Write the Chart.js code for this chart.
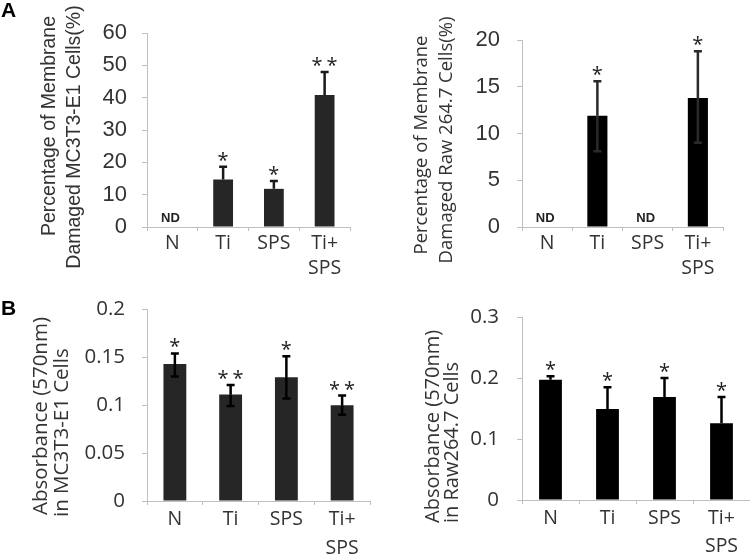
<!DOCTYPE html>
<html>
<head>
<meta charset="utf-8">
<script src="https://cdn.jsdelivr.net/npm/chart.js@4.4.1/dist/chart.umd.min.js"></script>
<style>
  body { margin: 0; background: #fff; }
  #wrap { position: relative; width: 750px; height: 555px; overflow: hidden; }
  canvas { position: absolute; }
  .tag { position: absolute; font: bold 21px "Liberation Sans", Arial, sans-serif; color: #000; line-height: 24px; }
</style>
</head>
<body>
<div id="wrap">
  <canvas id="a1" width="375" height="280" style="left:0;top:0"></canvas>
  <canvas id="a2" width="375" height="280" style="left:375px;top:0"></canvas>
  <canvas id="b1" width="375" height="275" style="left:0;top:280px"></canvas>
  <canvas id="b2" width="375" height="275" style="left:375px;top:280px"></canvas>
  <div class="tag" style="left:1px;top:-2px">A</div>
  <div class="tag" style="left:1px;top:296px">B</div>
</div>
<script>
const categories = ['N', 'Ti', 'SPS', ['Ti+', 'SPS']];

// A - membrane damage (%), MC3T3-E1
const damageMC3T3 = [null, 14.7, 11.8, 40.8];
const damageMC3T3Hi = [null, 18.6, 14.2, 47.9];
const damageMC3T3Lo = [null, null, null, null];
const damageMC3T3Sig = ['ND', '*', '*', '**'];
const ticksA1 = ['0', '10', '20', '30', '40', '50', '60'];
const titleA1 = ['Percentage of Membrane', 'Damaged MC3T3-E1 Cells(%)'];

// A - membrane damage (%), Raw 264.7
const damageRaw = [null, 11.9, null, 13.8];
const damageRawHi = [null, 15.6, null, 18.8];
const damageRawLo = [null, 8.1, null, 9.0];
const damageRawSig = ['ND', '*', 'ND', '*'];
const ticksA2 = ['0', '5', '10', '15', '20'];
const titleA2 = ['Percentage of Membrane', 'Damaged Raw 264.7 Cells(%)'];

// B - absorbance, MC3T3-E1
const absMC3T3 = [0.143, 0.111, 0.129, 0.100];
const absMC3T3Hi = [0.154, 0.121, 0.151, 0.110];
const absMC3T3Lo = [0.130, 0.099, 0.107, 0.090];
const absMC3T3Sig = ['*', '**', '*', '**'];
const ticksB1 = ['0', '0.05', '0.1', '0.15', '0.2'];
const titleB1 = ['Absorbance (570nm)', 'in MC3T3-E1 Cells'];

// B - absorbance, Raw264.7
const absRaw = [0.197, 0.149, 0.169, 0.126];
const absRawHi = [0.203, 0.185, 0.200, 0.169];
const absRawLo = [null, null, null, null];
const absRawSig = ['*', '*', '*', '*'];
const ticksB2 = ['0', '0.1', '0.2', '0.3'];
const titleB2 = ['Absorbance (570nm)', 'in Raw264.7 Cells'];

const txt = '#333';
const axisGray = '#bfbfbf';

function makeChart(id, o) {
  // error bars, stars and ND labels
  const marks = {
    id: 'marks',
    afterDatasetsDraw(chart) {
      const ctx = chart.ctx;
      const xs = chart.scales.x, ys = chart.scales.y;
      ctx.save();
      o.values.forEach((v, i) => {
        const x = xs.getPixelForValue(i);
        if (v != null) {
          const yv = ys.getPixelForValue(v);
          ctx.strokeStyle = o.errColor;
          ctx.lineWidth = 2.5;
          const ends = [o.hi[i], o.lo[i]].filter(e => e != null);
          ends.forEach(e => {
            const ye = ys.getPixelForValue(e);
            ctx.beginPath();
            ctx.moveTo(x, yv); ctx.lineTo(x, ye);
            ctx.moveTo(x - 4, ye); ctx.lineTo(x + 4, ye);
            ctx.stroke();
          });
        }
        const s = o.sig[i];
        ctx.fillStyle = '#222';
        ctx.textAlign = 'center';
        if (s === 'ND') {
          ctx.font = 'bold 13px "Liberation Sans", Arial';
          ctx.textBaseline = 'middle';
          ctx.fillText('ND', x - 2, ys.getPixelForValue(0) - 9);
        } else if (s) {
          const top = ys.getPixelForValue(o.hi[i] != null ? o.hi[i] : v);
          ctx.font = '20px "Open Sans"';
          ctx.textBaseline = 'alphabetic';
          const n = s.length;
          for (let k = 0; k < n; k++) {
            ctx.fillText('*', x + (k - (n - 1) / 2) * 15, top);
          }
        }
      });
      ctx.restore();
    }
  };
  // rotated y axis titles
  const yTitle = {
    id: 'yTitle',
    afterDraw(chart) {
      const ctx = chart.ctx;
      ctx.save();
      ctx.font = o.titleFont;
      ctx.fillStyle = txt;
      ctx.textBaseline = 'middle';
      ctx.textAlign = o.titleAlign;
      o.title.forEach((line, i) => {
        ctx.save();
        ctx.translate(o.titleX[i], o.titleY[i]);
        ctx.rotate(-Math.PI / 2);
        ctx.fillText(line, 0, 0);
        ctx.restore();
      });
      ctx.restore();
    }
  };

  new Chart(document.getElementById(id), {
    type: 'bar',
    data: {
      labels: categories,
      datasets: [{
        data: o.values,
        backgroundColor: o.color,
        barPercentage: o.barPct,
        categoryPercentage: 1
      }]
    },
    options: {
      responsive: false,
      animation: false,
      layout: { padding: o.pad },
      plugins: { legend: { display: false }, tooltip: { enabled: false } },
      scales: {
        x: {
          ticks: {
            color: txt, padding: 0, maxRotation: 0, autoSkip: false,
            font: { family: 'Open Sans', size: 19.5, lineHeight: o.xLine }
          },
          grid: { drawOnChartArea: false, tickLength: 4, color: axisGray },
          border: { color: axisGray },
          afterFit: s => { s.height = o.xHeight; }
        },
        y: {
          min: 0, max: o.max,
          ticks: {
            stepSize: o.step, padding: o.tickPad, color: txt,
            font: o.tickFont,
            callback: (v, i) => o.tickLabels[i]
          },
          grid: { drawOnChartArea: false, tickLength: 5, color: axisGray },
          border: { color: axisGray },
          afterFit: s => { s.width = 147; }
        }
      }
    },
    plugins: [marks, yTitle]
  });
}

makeChart('a1', {
  values: damageMC3T3, hi: damageMC3T3Hi, lo: damageMC3T3Lo, sig: damageMC3T3Sig,
  tickLabels: ticksA1, max: 60, step: 10, color: '#262626', errColor: '#1a1a1a', barPct: 0.39,
  pad: { left: 0, top: 33, right: 25, bottom: 0 }, xHeight: 53, xLine: 1.28,
  tickPad: 15, tickFont: { family: 'Liberation Sans', size: 22 },
  title: titleA1, titleFont: '19.5px "Liberation Sans"', titleAlign: 'center',
  titleX: [50, 75], titleY: [126, 137]
});

makeChart('a2', {
  values: damageRaw, hi: damageRawHi, lo: damageRawLo, sig: damageRawSig,
  tickLabels: ticksA2, max: 20, step: 5, color: '#000', errColor: '#2a2a2a', barPct: 0.4,
  pad: { left: 0, top: 40, right: 27, bottom: 0 }, xHeight: 53, xLine: 1.28,
  tickPad: 17, tickFont: { family: 'Liberation Sans', size: 22 },
  title: titleA2, titleFont: '18.5px "Open Sans"', titleAlign: 'center',
  titleX: [47, 72], titleY: [145, 140]
});

makeChart('b1', {
  values: absMC3T3, hi: absMC3T3Hi, lo: absMC3T3Lo, sig: absMC3T3Sig,
  tickLabels: ticksB1, max: 0.2, step: 0.05, color: '#262626', errColor: '#000', barPct: 0.41,
  pad: { left: 0, top: 26, right: 5, bottom: 0 }, xHeight: 54, xLine: 1.5,
  tickPad: 17, tickFont: { family: 'Open Sans', size: 20.5 },
  title: titleB1, titleFont: '20.5px "Open Sans"', titleAlign: 'left',
  titleX: [41, 62], titleY: [235, 237]
});

makeChart('b2', {
  values: absRaw, hi: absRawHi, lo: absRawLo, sig: absRawSig,
  tickLabels: ticksB2, max: 0.3, step: 0.1, color: '#000', errColor: '#000', barPct: 0.4,
  pad: { left: 0, top: 37, right: 0, bottom: 0 }, xHeight: 55, xLine: 1.45,
  tickPad: 18, tickFont: { family: 'Open Sans', size: 20.5 },
  title: titleB2, titleFont: '20px "Open Sans"', titleAlign: 'left',
  titleX: [58, 77], titleY: [243, 243]
});
</script>
</body>
</html>
